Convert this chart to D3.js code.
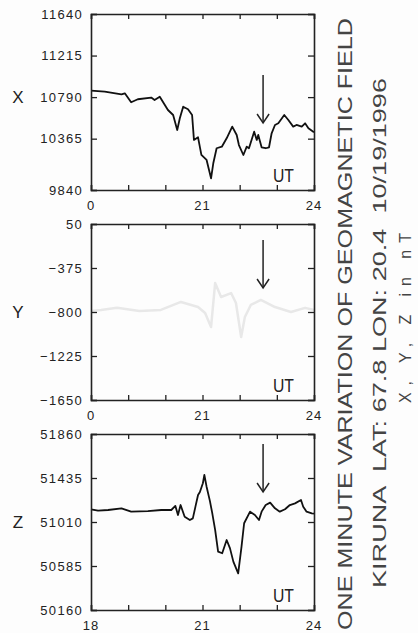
<!DOCTYPE html>
<html>
<head>
<meta charset="utf-8">
<script src="https://cdn.jsdelivr.net/npm/d3@7"></script>
<style>
  body { margin: 0; background: #fff; }
  svg { display: block; }
  text { font-family: "Liberation Sans", Arial, sans-serif; fill: #222; }
</style>
</head>
<body>
<script>
// hours UT and field values (nT)
const xTime = [18.00, 18.37, 18.82, 18.91, 19.08, 19.26, 19.62, 19.71, 19.85, 20.07, 20.21, 20.32, 20.39, 20.48, 20.61, 20.72, 20.77, 20.88, 20.97,
  21.11, 21.23, 21.29, 21.38, 21.52, 21.65, 21.80, 21.92, 21.98, 22.10, 22.19, 22.25, 22.39, 22.46, 22.50, 22.59, 22.70, 22.79, 22.86, 22.95,
  23.04, 23.20, 23.31, 23.44, 23.53, 23.67, 23.76, 23.85, 23.98, 24.00];
const xValues = [10856, 10846, 10819, 10829, 10737, 10768, 10785, 10760, 10794, 10658, 10607, 10454, 10574, 10692, 10666, 10607, 10352, 10379, 10200,
  10147, 9960, 10113, 10267, 10283, 10369, 10488, 10403, 10300, 10198, 10283, 10267, 10436, 10352, 10403, 10277, 10267, 10277, 10420, 10505,
  10522, 10607, 10556, 10488, 10505, 10488, 10522, 10471, 10436, 10430];

const yTime = [18.00, 18.27, 18.70, 19.30, 19.88, 20.42, 20.88, 21.07, 21.23, 21.34, 21.50, 21.77, 21.90, 22.04, 22.14, 22.30, 22.57, 22.95, 23.38, 23.76, 24.00];
const yValues = [-790, -780, -760, -790, -780, -703, -752, -810, -945, -520, -655, -617, -713, -1041, -848, -732, -684, -752, -800, -760, -780];

const zTime = [18.00, 18.19, 18.46, 18.82, 19.08, 19.53, 19.89, 20.16, 20.27, 20.34, 20.41, 20.52, 20.66, 20.74, 20.81, 20.88, 20.93, 21.01, 21.05,
  21.11, 21.20, 21.26, 21.34, 21.42, 21.53, 21.65, 21.74, 21.83, 21.96, 22.05, 22.12, 22.28, 22.41, 22.52, 22.59, 22.70, 22.82, 22.95,
  23.08, 23.22, 23.35, 23.49, 23.65, 23.71, 23.80, 23.94, 24.00];
const zValues = [51133, 51119, 51126, 51142, 51110, 51116, 51126, 51126, 51165, 51078, 51174, 51061, 51029, 51045, 51158, 51271, 51300, 51384, 51464,
  51351, 51212, 51100, 50933, 50723, 50708, 50836, 50755, 50627, 50514, 50772, 50998, 51110, 51078, 51029, 51110, 51174, 51197, 51142,
  51110, 51133, 51174, 51190, 51223, 51158, 51110, 51094, 51090];

const xTicks = [9840, 10365, 10790, 11215, 11640];
const yTicks = [-1650, -1225, -800, -375, 50];
const zTicks = [50160, 50585, 51010, 51435, 51860];
const hourTicks = [18, 19, 20, 21, 22, 23, 24];
const hourLabels = { top: ["0", "21", "24"], mid: ["0", "21", "24"], bottom: ["18", "21", "24"] };
const labelHours = [18, 21, 24];

const arrowTime = 22.63;
const arrowTips = [10525, -568, 51300];

const titleLines = [
  "ONE MINUTE VARIATION OF GEOMAGNETIC FIELD",
  "KIRUNA  LAT: 67.8 LON: 20.4  10/19/1996",
  "X, Y, Z in nT"
];

const W = 418, H = 633;
const left = 91, right = 314, ph = 176;
const tops = [14, 224, 434];

const svg = d3.select('body').append('svg')
  .attr('width', W)
  .attr('height', H);

svg.append('rect').attr('width', W).attr('height', H).attr('fill', '#fdfdfd');

const x = d3.scaleLinear().domain([18, 24]).range([left, right]);

const panels = [
  { name: "X", time: xTime, vals: xValues, ticks: xTicks, labels: hourLabels.top, color: "#111", width: 1.8 },
  { name: "Y", time: yTime, vals: yValues, ticks: yTicks, labels: hourLabels.mid, color: "#e8e8e8", width: 2.5 },
  { name: "Z", time: zTime, vals: zValues, ticks: zTicks, labels: hourLabels.bottom, color: "#111", width: 1.8 }
];

panels.forEach((p, i) => {
  const top = tops[i];
  const y = d3.scaleLinear()
    .domain([p.ticks[0], p.ticks[p.ticks.length - 1]])
    .range([top + ph, top]);

  const g = svg.append('g');

  // data trace
  const line = d3.line().x((d, j) => x(p.time[j])).y(d => y(d));
  g.append('path')
    .datum(p.vals)
    .attr('fill', 'none')
    .attr('stroke', p.color)
    .attr('stroke-width', p.width)
    .attr('stroke-linejoin', 'round')
    .attr('d', line);

  // axes with inward ticks on all four sides
  const axes = [
    d3.axisLeft(y).tickValues(p.ticks).tickSize(-6).tickFormat(d => String(d).replace('-', '\u2212')),
    d3.axisRight(y).tickValues(p.ticks).tickSize(-6).tickFormat(''),
    d3.axisBottom(x).tickValues(hourTicks).tickSize(-5).tickFormat(''),
    d3.axisTop(x).tickValues(hourTicks).tickSize(-5).tickFormat('')
  ];
  const trans = [`translate(${left},0)`, `translate(${right},0)`, `translate(0,${top + ph})`, `translate(0,${top})`];
  axes.forEach((a, k) => {
    const ag = g.append('g').attr('transform', trans[k]).call(a);
    ag.select('.domain').attr('stroke', '#222').attr('stroke-width', 1.6);
    ag.selectAll('.tick line').attr('stroke', '#222').attr('stroke-width', 1.3);
    ag.selectAll('.tick text')
      .attr('font-size', 13)
      .attr('letter-spacing', 1.3)
      .attr('fill', '#222')
      .attr('x', -8);
  });

  // hour labels
  g.selectAll('.hl')
    .data(labelHours)
    .enter().append('text')
    .attr('x', d => x(d))
    .attr('y', top + ph + 20)
    .attr('text-anchor', 'middle')
    .attr('font-size', 13)
    .attr('letter-spacing', 1)
    .text((d, j) => p.labels[j]);

  // component name
  g.append('text')
    .attr('x', 18)
    .attr('y', y(p.ticks[2]) + 6)
    .attr('text-anchor', 'middle')
    .attr('font-size', 17)
    .text(p.name);

  // UT label
  g.append('text')
    .attr('x', 273)
    .attr('y', top + ph - 8)
    .attr('font-size', 18)
    .attr('textLength', 21)
    .attr('lengthAdjust', 'spacingAndGlyphs')
    .text('UT');

  // arrow
  const tipY = y(arrowTips[i]);
  const ax = x(arrowTime);
  g.append('line')
    .attr('x1', ax).attr('x2', ax)
    .attr('y1', tipY - 48).attr('y2', tipY)
    .attr('stroke', '#222').attr('stroke-width', 1.5);
  g.append('path')
    .attr('d', `M${ax - 6},${tipY - 9}L${ax},${tipY}L${ax + 6},${tipY - 9}`)
    .attr('fill', 'none')
    .attr('stroke', '#222').attr('stroke-width', 1.5);
});

// rotated title block
const titlePos = [
  { x: 352, y: 630, size: 21, len: 612, adj: 'spacingAndGlyphs' },
  { x: 386, y: 588, size: 18, len: 510, adj: 'spacingAndGlyphs' },
  { x: 411, y: 403, size: 16, len: 170, adj: 'spacing' }
];
titleLines.forEach((t, i) => {
  const tp = titlePos[i];
  svg.append('text')
    .attr('transform', `translate(${tp.x},${tp.y}) rotate(-90)`)
    .attr('font-size', tp.size)
    .style('fill', '#444')
    .attr('textLength', tp.len)
    .attr('lengthAdjust', tp.adj)
    .style('white-space', 'pre')
    .text(t);
});
</script>
</body>
</html>
